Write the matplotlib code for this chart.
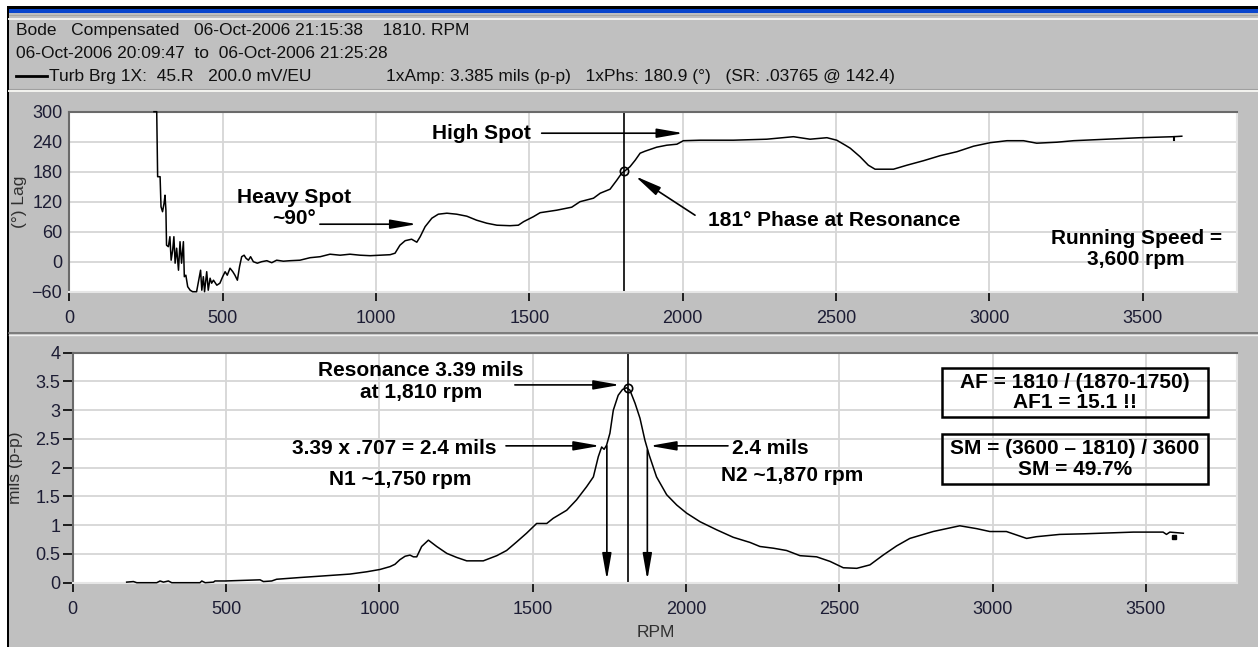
import matplotlib
matplotlib.use("Agg")
import matplotlib.pyplot as plt
from matplotlib.lines import Line2D
from matplotlib.patches import Rectangle
from matplotlib.transforms import Affine2D

W, H = 1258, 647

# phase trace (rpm, degrees lag)
phase_rpm = [276, 285, 288, 296, 299, 304, 309, 312, 315, 317, 323, 328, 332, 337, 341, 345,
             350, 356, 361, 366, 372, 375, 380, 386, 394, 402, 415, 424, 428, 432, 437, 441,
             448, 453, 459, 464, 470, 481, 491, 500, 508, 515, 524, 533, 540, 548, 555, 562,
             570, 576, 584, 591, 600, 613, 627, 644, 660, 676, 698, 720, 752, 785, 818, 850,
             883, 915, 948, 981, 1013, 1046, 1062, 1078, 1095, 1116, 1133, 1144, 1160, 1182,
             1203, 1231, 1263, 1296, 1328, 1361, 1394, 1437, 1464, 1481, 1513, 1535, 1589,
             1638, 1665, 1709, 1731, 1763, 1785, 1801, 1812, 1828, 1845, 1861, 1877, 1915,
             1948, 1981, 2002, 2057, 2165, 2274, 2361, 2415, 2470, 2502, 2530, 2546, 2578,
             2605, 2627, 2687, 2731, 2785, 2839, 2894, 2948, 3002, 3057, 3111, 3154, 3220,
             3274, 3383, 3491, 3600, 3627]
phase_deg = [300, 300, 170, 170, 110, 100, 117, 133, 103, 33, 30, 50, 3, 23, 50, -3,
             27, -17, 40, -3, 40, -30, -27, -50, -57, -60, -60, -30, -17, -57, -30, -60,
             -20, -57, -33, -43, -37, -47, -43, -30, -20, -27, -13, -20, -27, -37, -10, 10,
             13, 7, 3, 10, 0, -3, 0, 2, -2, 3, 1, 2, 3, 8, 10, 15,
             13, 15, 13, 12, 13, 14, 17, 33, 42, 45, 39, 50, 70, 87,
             95, 97, 95, 91, 83, 77, 73, 72, 73, 80, 90, 98, 103,
             109, 120, 127, 137, 145, 163, 177, 182, 190, 203, 217, 221, 229,
             233, 235, 242, 243, 243, 245, 250, 245, 248, 243, 233, 227, 210,
             193, 185, 185, 193, 202, 212, 220, 231, 238, 242, 242, 237, 239,
             242, 245, 248, 250, 251]

# amplitude trace (rpm, mils p-p)
amp_rpm = [176, 198, 209, 274, 285, 296, 312, 323, 415, 421, 432, 459, 464, 486, 497, 611,
           622, 649, 665, 741, 796, 850, 904, 959, 1002, 1035, 1051, 1067, 1084, 1100, 1111,
           1122, 1138, 1160, 1187, 1220, 1252, 1285, 1339, 1383, 1415, 1448, 1480, 1513,
           1546, 1567, 1611, 1643, 1676, 1698, 1714, 1725, 1733, 1741, 1752, 1763, 1779,
           1793, 1806, 1817, 1834, 1850, 1866, 1880, 1904, 1937, 1970, 2002, 2046, 2100,
           2154, 2209, 2241, 2285, 2328, 2372, 2426, 2470, 2513, 2557, 2600, 2643, 2687,
           2730, 2806, 2893, 2948, 2991, 3045, 3111, 3143, 3219, 3296, 3459, 3556, 3567,
           3578, 3622]
amp_mils = [0.01, 0.02, 0.0, 0.0, 0.03, 0.01, 0.03, 0.0, 0.0, 0.03, 0.0, 0.01, 0.03, 0.03, 0.03, 0.05,
            0.02, 0.03, 0.06, 0.09, 0.11, 0.13, 0.15, 0.19, 0.23, 0.28, 0.32, 0.40, 0.46, 0.48, 0.45,
            0.45, 0.63, 0.74, 0.63, 0.51, 0.44, 0.38, 0.38, 0.47, 0.56, 0.71, 0.86, 1.03,
            1.03, 1.12, 1.26, 1.44, 1.67, 1.84, 2.19, 2.36, 2.32, 2.39, 2.60, 3.00, 3.26,
            3.36, 3.39, 3.35, 3.12, 2.86, 2.48, 2.22, 1.84, 1.53, 1.35, 1.21, 1.06, 0.92,
            0.79, 0.70, 0.63, 0.60, 0.56, 0.47, 0.45, 0.37, 0.26, 0.25, 0.31, 0.48, 0.64,
            0.77, 0.89, 0.99, 0.94, 0.89, 0.89, 0.77, 0.80, 0.84, 0.85, 0.88, 0.88, 0.84,
            0.88, 0.86]

res_rpm = 1810
res_phase = 181
res_amp = 3.39
half_amp = 2.38
n1_rpm = 1742
n2_rpm = 1874

plt.rcParams['font.family'] = ['Liberation Sans', 'DejaVu Sans']

fig = plt.figure(figsize=(W / 100, H / 100), dpi=100, facecolor='#c0c0c0')
pix = Affine2D().scale(1.0 / W, -1.0 / H).translate(0, 1) + fig.transFigure


def hline(y, x0, x1, color, lw):
    fig.add_artist(Line2D([x0, x1], [y, y], transform=pix, color=color, lw=lw))


# window frame
fig.add_artist(Rectangle((0, 0), W, 6, transform=pix, color='white', lw=0))
fig.add_artist(Rectangle((0, 0), 7, H, transform=pix, color='white', lw=0))
fig.add_artist(Rectangle((7, 6), W, 3, transform=pix, color='black', lw=0))
fig.add_artist(Rectangle((7, 9), W, 3.5, transform=pix, color='#0a46cc', lw=0))
fig.add_artist(Rectangle((7, 6), 2.2, H, transform=pix, color='black', lw=0))
hline(15, 9, W, '#a8a8a0', 0.8)
hline(19, 9, W, '#f4f4f0', 1.4)
hline(89, 9, W, '#a0a0a0', 0.8)
hline(91, 9, W, '#f4f4f0', 1.4)
hline(333, 9, W, '#707070', 1.2)
hline(335, 9, W, '#f0f0f0', 1.0)

# header
hdr = dict(fontsize=12.5, color='#101010', va='center', transform=pix)
fig.text(16, 30, 'Bode   Compensated   06-Oct-2006 21:15:38    1810. RPM', **hdr)
fig.text(16, 53, '06-Oct-2006 20:09:47  to  06-Oct-2006 21:25:28', **hdr)
hline(76, 16, 47, 'black', 2.0)
fig.text(49, 76, 'Turb Brg 1X:  45.R   200.0 mV/EU', **hdr)
fig.text(386, 76, '1xAmp: 3.385 mils (p-p)   1xPhs: 180.9 (\u00b0)   (SR: .03765 @ 142.4)', **hdr)

ax1 = fig.add_axes([69.3 / W, 1 - 291.7 / H, (1237 - 69.3) / W, 180 / H])
ax2 = fig.add_axes([72.7 / W, 1 - 582.7 / H, (1237 - 72.7) / W, 230 / H])

tick_color = '#1c1c34'
for ax in (ax1, ax2):
    ax.set_facecolor('white')
    ax.grid(True, color='#d6d6d6', lw=1.3)
    ax.set_axisbelow(True)
    ax.spines['top'].set_color('#6a6a6a')
    ax.spines['left'].set_color('#6a6a6a')
    ax.spines['bottom'].set_color('#e6e6e6')
    ax.spines['right'].set_color('#e6e6e6')
    for s in ax.spines.values():
        s.set_linewidth(1.5)
    ax.set_xticks(range(0, 3501, 500))
    ax.tick_params(axis='x', direction='out', length=6.5, width=1.2, pad=7,
                   labelsize=13, labelcolor=tick_color, color='black')

# phase plot
ax1.plot(phase_rpm, phase_deg, color='black', lw=1.1, zorder=3, clip_on=False)
ax1.plot([3600, 3600], [250, 243], color='black', lw=1.5, zorder=3)
ax1.set_xlim(0, 3807)
ax1.set_ylim(-60, 300)
ax1.set_yticks(range(-60, 301, 60))
ax1.tick_params(axis='y', length=0, pad=5, labelsize=13, labelcolor=tick_color)
ax1.axvline(res_rpm, color='black', lw=1.2)
ax1.plot([res_rpm], [res_phase], 'o', mfc='none', mec='black', ms=6, mew=1.2, zorder=4)
ax1.set_ylabel('(\u00b0) Lag', fontsize=12.5, color='#303030')
ax1.yaxis.set_label_coords(-0.036, 0.5)

bold = dict(fontsize=15, fontweight='bold', color='black')
arw = dict(arrowstyle='-|>,head_length=1.6,head_width=0.28', color='black', lw=1.2,
           mutation_scale=10, shrinkA=0, shrinkB=0)

ax1.text(1343, 257, 'High Spot', ha='center', va='center', **bold)
ax1.annotate('', xy=(2002, 257), xytext=(1540, 257), arrowprops=arw)
ax1.text(733, 108, 'Heavy Spot\n~90\u00b0', ha='center', va='center', linespacing=1.15, **bold)
ax1.annotate('', xy=(1133, 75), xytext=(817, 75), arrowprops=arw)
ax1.text(2083, 83, '181\u00b0 Phase at Resonance', ha='left', va='center', **bold)
ax1.annotate('', xy=(1845, 171), xytext=(2040, 93), arrowprops=arw)
ax1.text(3478, 26, 'Running Speed =\n3,600 rpm', ha='center', va='center', linespacing=1.15, **bold)

# amplitude plot
ax2.plot(amp_rpm, amp_mils, color='black', lw=1.1, zorder=3, clip_on=False)
ax2.plot([3590], [0.80], 's', color='black', ms=2.5, zorder=3)
ax2.set_xlim(0, 3797)
ax2.set_ylim(0, 4)
ax2.set_yticks([0, 0.5, 1, 1.5, 2, 2.5, 3, 3.5, 4])
ax2.set_yticklabels(['0', '0.5', '1', '1.5', '2', '2.5', '3', '3.5', '4'])
ax2.tick_params(axis='y', direction='out', length=7, width=1.2, pad=2, labelsize=13,
                labelcolor=tick_color, color='black')
ax2.axvline(res_rpm, color='black', lw=1.2)
ax2.plot([res_rpm], [res_amp], 'o', mfc='none', mec='black', ms=6, mew=1.2, zorder=4)
ax2.set_ylabel('mils (p-p)', fontsize=12.5, color='#303030')
ax2.yaxis.set_label_coords(-0.043, 0.5)
ax2.set_xlabel('RPM', fontsize=12.5, color='#303030')
ax2.xaxis.set_label_coords(0.501, -0.185)

ax2.text(1136, 3.50, 'Resonance 3.39 mils\nat 1,810 rpm', ha='center', va='center',
         linespacing=1.15, **bold)
ax2.annotate('', xy=(1785, 3.44), xytext=(1442, 3.44), arrowprops=arw)
ax2.text(1049, 2.34, '3.39 x .707 = 2.4 mils', ha='center', va='center', **bold)
ax2.text(1067, 1.80, 'N1 ~1,750 rpm', ha='center', va='center', **bold)
ax2.annotate('', xy=(1720, half_amp), xytext=(1413, half_amp), arrowprops=arw)
ax2.annotate('', xy=(1882, half_amp), xytext=(2137, half_amp), arrowprops=arw)
ax2.text(2149, 2.34, '2.4 mils', ha='left', va='center', **bold)
ax2.text(2345, 1.87, 'N2 ~1,870 rpm', ha='center', va='center', **bold)
ax2.annotate('', xy=(n1_rpm, 0.05), xytext=(n1_rpm, half_amp), arrowprops=arw)
ax2.annotate('', xy=(n2_rpm, 0.05), xytext=(n2_rpm, 2.31), arrowprops=arw)

for y0, y1, t1, t2 in [(2.877, 3.739, 'AF = 1810 / (1870-1750)', 'AF1 = 15.1 !!'),
                       (1.717, 2.586, 'SM = (3600 \u2013 1810) / 3600', 'SM = 49.7%')]:
    ax2.add_patch(Rectangle((2834, y0), 3703 - 2834, y1 - y0, fill=False,
                            ec='black', lw=1.8, zorder=5))
    ax2.text(3268, (y0 + y1) / 2, t1 + '\n' + t2, ha='center', va='center',
             linespacing=1.1, zorder=6, **bold)

fig.savefig('out.png', dpi=100, facecolor=fig.get_facecolor())
